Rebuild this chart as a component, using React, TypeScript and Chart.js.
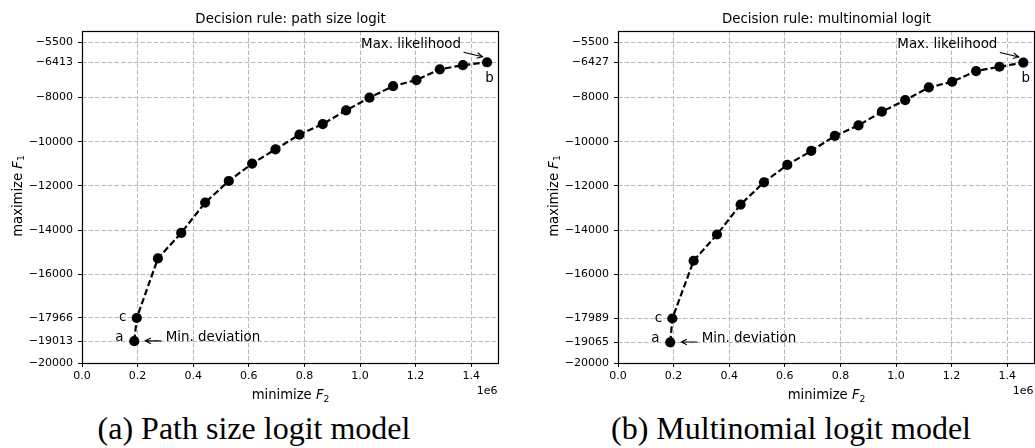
import React, { useEffect, useRef } from "react";
import { Chart, registerables } from "chart.js";

Chart.register(...registerables);

// Pareto front, path size logit decision rule (F2 in millions)
const pslF2 = [0.188, 0.197, 0.273, 0.357, 0.443, 0.528, 0.612, 0.696, 0.782, 0.866, 0.95, 1.034, 1.119, 1.203, 1.287, 1.37, 1.457];
const pslF1 = [-19013, -17966, -15277, -14122, -12751, -11776, -10992, -10346, -9683, -9205, -8587, -8014, -7491, -7215, -6730, -6545, -6413];
const pslYTicks = [-20000, -19013, -17966, -16000, -14000, -12000, -10000, -8000, -6413, -5500];

// Pareto front, multinomial logit decision rule (F2 in millions)
const mnlF2 = [0.188, 0.1955, 0.272, 0.356, 0.441, 0.525, 0.609, 0.695, 0.78, 0.865, 0.949, 1.033, 1.118, 1.202, 1.288, 1.372, 1.458];
const mnlF1 = [-19065, -17989, -15381, -14194, -12841, -11835, -11050, -10419, -9742, -9264, -8646, -8125, -7550, -7293, -6810, -6616, -6427];
const mnlYTicks = [-20000, -19065, -17989, -16000, -14000, -12000, -10000, -8000, -6427, -5500];

const xTicks = [0, 0.2, 0.4, 0.6, 0.8, 1.0, 1.2, 1.4];
const xMax = 1.5;
const yMin = -20000;
const yMax = -5000;
const SCALE = 1e6;

const FAMILY = "'DejaVu Sans', sans-serif";
const TICK_SIZE = 11;
const LABEL_SIZE = 13.2;
const TITLE_SIZE = 13.4;
const NOTE_SIZE = 13.4;

const CANVAS_W = 517;
const CANVAS_H = 410;

function minus(v: number): string {
  return (v < 0 ? "\u2212" : "") + String(Math.abs(v));
}

// "word F_sub" drawn mathtext-style, centred on cx, on the given baseline
function mathLabel(ctx: CanvasRenderingContext2D, cx: number, base: number, size: number, word: string, sym: string, sub: string) {
  const reg = `${size}px ${FAMILY}`;
  const ital = `oblique ${size}px ${FAMILY}`;
  const subFont = `${size * 0.7}px ${FAMILY}`;
  ctx.font = reg;
  const w1 = ctx.measureText(word + " ").width;
  ctx.font = ital;
  const w2 = ctx.measureText(sym).width;
  ctx.font = subFont;
  const w3 = ctx.measureText(sub).width;
  let x = cx - (w1 + w2 + w3) / 2;
  ctx.textAlign = "left";
  ctx.textBaseline = "alphabetic";
  ctx.font = reg;
  ctx.fillText(word + " ", x, base);
  x += w1;
  ctx.font = ital;
  ctx.fillText(sym, x, base);
  x += w2;
  ctx.font = subFont;
  ctx.fillText(sub, x, base + size * 0.2);
}

function arrow(ctx: CanvasRenderingContext2D, x0: number, y0: number, x1: number, y1: number) {
  const ang = Math.atan2(y1 - y0, x1 - x0);
  const hl = 5.6;
  const hw = 2.8;
  ctx.beginPath();
  ctx.moveTo(x0, y0);
  ctx.lineTo(x1, y1);
  const bx = x1 - hl * Math.cos(ang);
  const by = y1 - hl * Math.sin(ang);
  ctx.moveTo(bx + hw * Math.sin(ang), by - hw * Math.cos(ang));
  ctx.lineTo(x1, y1);
  ctx.lineTo(bx - hw * Math.sin(ang), by + hw * Math.cos(ang));
  ctx.stroke();
}

type PanelProps = {
  f2: number[];
  f1: number[];
  yTicks: number[];
  title: string;
  left: number;
};

function Panel({ f2, f1, yTicks, title, left }: PanelProps) {
  const ref = useRef<HTMLCanvasElement | null>(null);

  useEffect(() => {
    const canvas = ref.current;
    if (!canvas) return;

    const decor = {
      id: "decor",
      afterDraw(chart: any) {
        const { ctx, chartArea: a, scales } = chart;
        const sx = scales.x;
        const sy = scales.y;
        ctx.save();
        ctx.setLineDash([]);

        // axes frame
        ctx.strokeStyle = "#000";
        ctx.lineWidth = 1.2;
        ctx.strokeRect(Math.round(a.left) + 0.5, Math.round(a.top) + 0.5, Math.round(a.right - a.left) - 1, Math.round(a.bottom - a.top));

        ctx.fillStyle = "#000";

        // title
        ctx.font = `${TITLE_SIZE}px ${FAMILY}`;
        ctx.textAlign = "center";
        ctx.textBaseline = "alphabetic";
        ctx.fillText(title, (a.left + a.right) / 2, a.top - 8.3);

        // axis labels
        mathLabel(ctx, (a.left + a.right) / 2, a.bottom + 36, LABEL_SIZE, "minimize", "F", "2");
        ctx.save();
        ctx.translate(a.left - 60.5, (a.top + a.bottom) / 2 - 1);
        ctx.rotate(-Math.PI / 2);
        mathLabel(ctx, 0, 0, LABEL_SIZE, "maximize", "F", "1");
        ctx.restore();

        // offset text of the x axis
        ctx.font = `${TICK_SIZE}px ${FAMILY}`;
        ctx.textAlign = "right";
        ctx.textBaseline = "alphabetic";
        ctx.fillText("1e6", a.right - 1.5, a.bottom + 31);

        // annotations on the end points
        const last = f2.length - 1;
        const ax = sx.getPixelForValue(f2[0] * SCALE);
        const ay = sy.getPixelForValue(f1[0]);
        const cx = sx.getPixelForValue(f2[1] * SCALE);
        const cy = sy.getPixelForValue(f1[1]);
        const bx = sx.getPixelForValue(f2[last] * SCALE);
        const by = sy.getPixelForValue(f1[last]);

        ctx.font = `${NOTE_SIZE}px ${FAMILY}`;
        ctx.textBaseline = "alphabetic";
        ctx.textAlign = "center";
        ctx.fillText("a", ax - 15, ay);
        ctx.fillText("c", cx - 14, cy + 3.5);
        ctx.fillText("b", bx + 2.5, by + 19.5);

        ctx.textAlign = "left";
        ctx.fillText("Min. deviation", ax + 31.4, ay);
        ctx.textAlign = "right";
        ctx.fillText("Max. likelihood", bx - 26, by - 14.5);

        ctx.strokeStyle = "#000";
        ctx.lineWidth = 1.1;
        arrow(ctx, ax + 27, ay - 0.3, ax + 11, ay - 0.3);
        arrow(ctx, bx - 23.5, by - 10, bx - 4.5, by - 5.5);

        ctx.restore();
      },
    };

    const chart = new Chart(canvas, {
      type: "scatter",
      data: {
        datasets: [
          {
            data: f2.map((x, i) => ({ x: x * SCALE, y: f1[i] })),
            showLine: true,
            borderColor: "#000",
            borderWidth: 2.2,
            borderDash: [6.5, 3],
            pointRadius: 5.1,
            pointHoverRadius: 5.1,
            pointBackgroundColor: "#000",
            pointBorderColor: "#000",
            pointBorderWidth: 0,
          },
        ],
      },
      options: {
        animation: false,
        responsive: false,
        maintainAspectRatio: false,
        events: [],
        layout: { padding: { top: 31, right: CANVAS_W - 499, left: 0, bottom: 0 } },
        plugins: {
          legend: { display: false },
          tooltip: { enabled: false },
          title: { display: false },
        },
        scales: {
          x: {
            type: "linear",
            min: 0,
            max: xMax * SCALE,
            afterBuildTicks: (scale: any) => {
              scale.ticks = xTicks.map((v) => ({ value: v * SCALE }));
            },
            afterFit: (scale: any) => {
              scale.height = CANVAS_H - 363;
            },
            ticks: {
              autoSkip: false,
              maxRotation: 0,
              padding: 3,
              color: "#000",
              font: { family: FAMILY, size: TICK_SIZE },
              callback: (v: any) => (Number(v) / SCALE).toFixed(1),
            },
            grid: {
              color: "#b9b9b9",
              lineWidth: 1,
              tickLength: 4,
              tickColor: "#000",
              tickWidth: 1,
            },
            border: { display: false, dash: [4.5, 2] },
          },
          y: {
            type: "linear",
            min: yMin,
            max: yMax,
            afterBuildTicks: (scale: any) => {
              scale.ticks = yTicks.map((v) => ({ value: v }));
            },
            afterFit: (scale: any) => {
              scale.width = 82;
            },
            ticks: {
              autoSkip: false,
              padding: 5,
              color: "#000",
              font: { family: FAMILY, size: TICK_SIZE },
              callback: (v: any) => minus(Number(v)),
            },
            grid: {
              color: "#b9b9b9",
              lineWidth: 1,
              tickLength: 4,
              tickColor: "#000",
              tickWidth: 1,
            },
            border: { display: false, dash: [4.5, 2] },
          },
        },
      },
      plugins: [decor],
    } as any);

    return () => chart.destroy();
  }, [f2, f1, yTicks, title]);

  return (
    <div style={{ position: "absolute", left, top: 0, width: CANVAS_W, height: CANVAS_H }}>
      <canvas ref={ref} width={CANVAS_W} height={CANVAS_H} style={{ display: "block" }} />
    </div>
  );
}

function Caption({ text, center }: { text: string; center: number }) {
  return (
    <div
      style={{
        position: "absolute",
        top: 412,
        left: center - 300,
        width: 600,
        textAlign: "center",
        fontFamily: "'Liberation Serif', 'Times New Roman', serif",
        fontSize: 32,
        lineHeight: "32px",
        color: "#000",
        whiteSpace: "nowrap",
      }}
    >
      {text}
    </div>
  );
}

export default function App() {
  return (
    <div
      style={{
        position: "absolute",
        left: 0,
        top: 0,
        width: 1035,
        height: 448,
        overflow: "hidden",
        background: "#fff",
      }}
    >
      <Panel f2={pslF2} f1={pslF1} yTicks={pslYTicks} title="Decision rule: path size logit" left={0} />
      <Panel f2={mnlF2} f1={mnlF1} yTicks={mnlYTicks} title="Decision rule: multinomial logit" left={536} />
      <Caption text="(a) Path size logit model" center={254} />
      <Caption text="(b) Multinomial logit model" center={791} />
    </div>
  );
}
